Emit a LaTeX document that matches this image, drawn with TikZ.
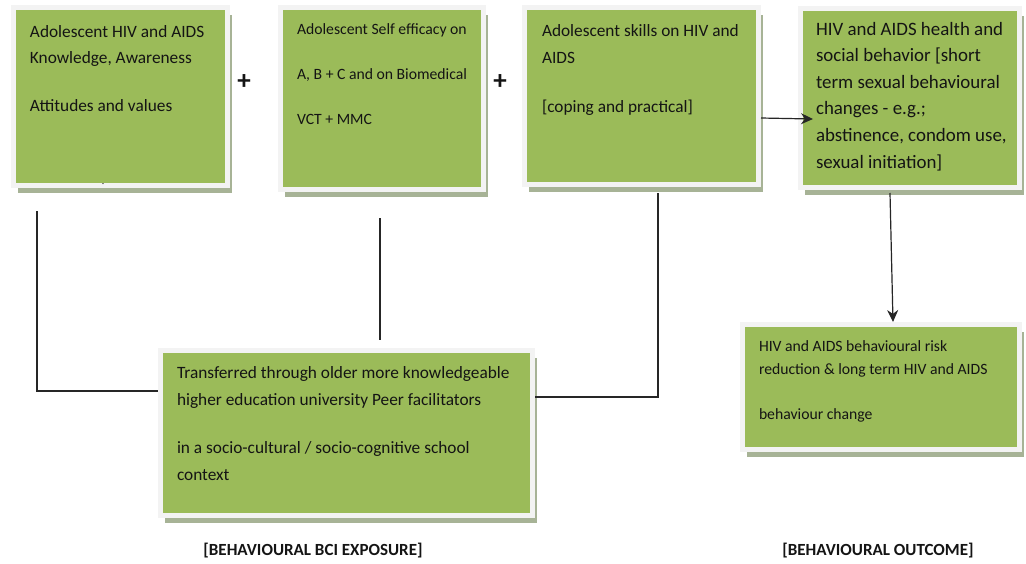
\documentclass[tikz,border=0pt]{standalone}
\usepackage{fontspec}
\setmainfont{Carlito}
\usetikzlibrary{shadows,arrows.meta,calc}
\definecolor{boxgreen}{HTML}{9BBB59}
\definecolor{framecol}{HTML}{F3F3F3}
\definecolor{shadowcol}{HTML}{A7B396}
\definecolor{textcol}{HTML}{141414}
\newcommand{\bigtxt}[1]{\fontsize{17.3pt}{#1}\selectfont}
\newcommand{\smalltxt}[1]{\fontsize{15.7pt}{#1}\selectfont}
\begin{document}
\begin{tikzpicture}[x=1pt,y=-1pt,
  gbox/.style={rectangle, fill=boxgreen, draw=framecol, line width=5pt, outer sep=2.5pt, inner sep=0pt,
    drop shadow={shadow xshift=4pt, shadow yshift=-7pt, fill=shadowcol, opacity=1}},
  txt/.style={anchor=north west, align=left, inner sep=0pt, outer sep=0pt, text=textcol},
  conn/.style={draw=black!85, line width=1.2pt},
  arr/.style={conn, -{Stealth[length=12pt,width=11pt]}},
  lbl/.style={font=\fontsize{17pt}{17pt}\selectfont\bfseries, text=textcol, inner sep=0pt},
  plus/.style={font=\fontsize{27pt}{27pt}\selectfont\bfseries, text=textcol, inner sep=0pt}]
\fill[white] (0,0) rectangle (1026,563);
\useasboundingbox (0,0) rectangle (1026,563);

% boxes
\node[gbox, minimum width=214pt, minimum height=178pt] (b1) at (120.5,96.5) {};
\node[gbox, minimum width=203pt, minimum height=182pt] (b2) at (382,98.5) {};
\node[gbox, minimum width=234pt, minimum height=177pt] (b3) at (641.5,96) {};
\node[gbox, minimum width=219pt, minimum height=179pt] (b4) at (910,98) {};
\node[gbox, minimum width=372pt, minimum height=165pt] (b5) at (346.5,433) {};
\node[gbox, minimum width=277pt, minimum height=125pt] (b6) at (881,387) {};

% texts
\node[txt, font=\bigtxt{26pt}] (t1) at (30,25) {Adolescent HIV and AIDS\\Knowledge, Awareness\\[22pt]Attitudes and values};
\node[font=\fontsize{8pt}{8pt}\selectfont, inner sep=0pt, text=textcol] (dash) at (103,185) {-};
\node[txt, font=\smalltxt{23pt}] (t2) at (297,24) {Adolescent Self efficacy on\\[22pt]A, B + C and on Biomedical\\[22pt]VCT + MMC};
\node[txt, font=\bigtxt{27pt}] (t3) at (542,24) {Adolescent skills on HIV and\\AIDS\\[22pt]{[coping and practical]}};
\node[txt, font=\fontsize{18.9pt}{26.6pt}\selectfont] (t4) at (816,22) {HIV and AIDS health and\\social behavior [short\\term sexual behavioural\\changes - e.g.;\\abstinence, condom use,\\sexual initiation]};
\node[txt, font=\bigtxt{27pt}] (t5) at (177,366) {Transferred through older more knowledgeable\\higher education university Peer facilitators\\[21pt]in a socio-cultural / socio-cognitive school\\context};
\node[txt, font=\smalltxt{23pt}] (t6) at (759,341) {HIV and AIDS behavioural risk\\reduction \& long term HIV and AIDS\\[22pt]behaviour change};

% plus signs
\node[plus] (p1) at (244,82) {+};
\node[plus] (p2) at (500,82) {+};

% connectors
\coordinate (c1) at (37,211);
\coordinate (c2) at (380,218);
\coordinate (c3) at (658,193);
\draw[conn] (c1) |- ($(b5.north west)+(0,43)$);
\draw[conn] (c2) -- ([yshift=8pt]c2 |- b5.north);
\draw[conn] (c3) |- ($(b5.north east)+(0,49)$);
\draw[arr] ($(b3.east)+(0,22)$) -- ($(b4.west)+(15,21)$);
\draw[arr] ($(b4.south)+(-20,3)$) -- ($(b6.north)+(12,0)$);

% bottom labels
\node[lbl] (l1) at (313,551) {[BEHAVIOURAL BCI EXPOSURE]};
\node[lbl] (l2) at (878,551) {[BEHAVIOURAL OUTCOME]};
\end{tikzpicture}
\end{document}
